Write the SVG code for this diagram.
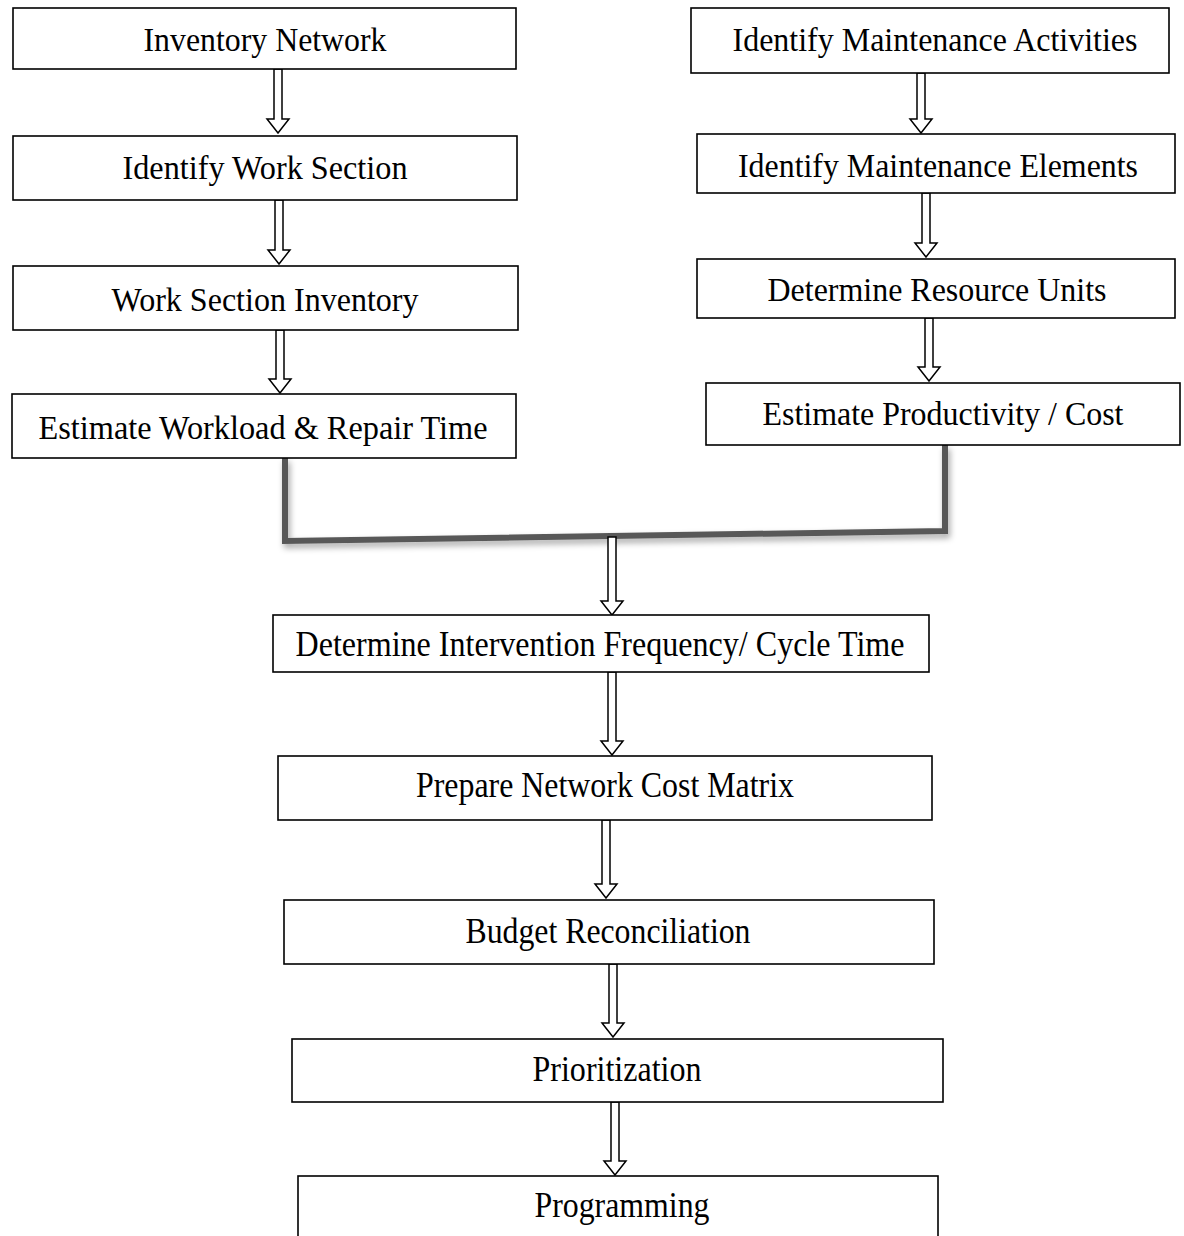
<svg xmlns="http://www.w3.org/2000/svg" width="1184" height="1236" viewBox="0 0 1184 1236">
<defs>
<filter id="sh" x="-5%" y="-20%" width="110%" height="140%">
<feDropShadow dx="2" dy="4" stdDeviation="3" flood-color="#000" flood-opacity="0.35"/>
</filter>
</defs>
<style>
.box{fill:#fff;stroke:#000;stroke-width:1.6}
.t{font-family:"Liberation Serif","Times New Roman",serif;font-size:33px;fill:#000;text-anchor:middle}
.tc{font-family:"Liberation Serif","Times New Roman",serif;font-size:35px;fill:#000;text-anchor:middle}
.arr{fill:#fff;stroke:#000;stroke-width:1.5;stroke-linejoin:miter}
.bar{fill:none;stroke:#595959;stroke-width:6;stroke-linejoin:miter}
</style>
<rect width="1184" height="1236" fill="#fff"/>
<g id="connectors">
<path class="bar" filter="url(#sh)" d="M285 458 V541 L945 531 V445"/>
<path class="arr" d="M274 69 V119 H267 L278 133 L289 119 H282 V69 Z"/>
<path class="arr" d="M275 200 V250 H268 L279 264 L290 250 H283 V200 Z"/>
<path class="arr" d="M276 330 V379 H269 L280 393 L291 379 H284 V330 Z"/>
<path class="arr" d="M917 73 V119 H910 L921 133 L932 119 H925 V73 Z"/>
<path class="arr" d="M922 193 V243 H915 L926 257 L937 243 H930 V193 Z"/>
<path class="arr" d="M925 318 V367 H918 L929 381 L940 367 H933 V318 Z"/>
<path class="arr" d="M608 537 V601 H601 L612 615 L623 601 H616 V537 Z"/>
<path class="arr" d="M608 672 V741 H601 L612 755 L623 741 H616 V672 Z"/>
<path class="arr" d="M602 820 V884 H595 L606 898 L617 884 H610 V820 Z"/>
<path class="arr" d="M609 964 V1023 H602 L613 1037 L624 1023 H617 V964 Z"/>
<path class="arr" d="M611 1102 V1161 H604 L615 1175 L626 1161 H619 V1102 Z"/>
</g>
<g id="n1"><rect class="box" x="13" y="8" width="503" height="61"/><text class="t" x="265" y="51" textLength="243" lengthAdjust="spacingAndGlyphs">Inventory Network</text></g>
<g id="n2"><rect class="box" x="13" y="136" width="504" height="64"/><text class="t" x="265" y="179" textLength="285" lengthAdjust="spacingAndGlyphs">Identify Work Section</text></g>
<g id="n3"><rect class="box" x="13" y="266" width="505" height="64"/><text class="t" x="265" y="311" textLength="307" lengthAdjust="spacingAndGlyphs">Work Section Inventory</text></g>
<g id="n4"><rect class="box" x="12" y="394" width="504" height="64"/><text class="t" x="263" y="439" textLength="449" lengthAdjust="spacingAndGlyphs">Estimate Workload &amp; Repair Time</text></g>
<g id="n5"><rect class="box" x="691" y="8" width="478" height="65"/><text class="t" x="935" y="51" textLength="405" lengthAdjust="spacingAndGlyphs">Identify Maintenance Activities</text></g>
<g id="n6"><rect class="box" x="697" y="134" width="478" height="59"/><text class="t" x="938" y="177" textLength="400" lengthAdjust="spacingAndGlyphs">Identify Maintenance Elements</text></g>
<g id="n7"><rect class="box" x="697" y="259" width="478" height="59"/><text class="t" x="937" y="301" textLength="339" lengthAdjust="spacingAndGlyphs">Determine Resource Units</text></g>
<g id="n8"><rect class="box" x="706" y="383" width="474" height="62"/><text class="t" x="943" y="425" textLength="361" lengthAdjust="spacingAndGlyphs">Estimate Productivity / Cost</text></g>
<g id="n9"><rect class="box" x="273" y="615" width="656" height="57"/><text class="tc" x="600" y="656" textLength="609" lengthAdjust="spacingAndGlyphs">Determine Intervention Frequency/ Cycle Time</text></g>
<g id="n10"><rect class="box" x="278" y="756" width="654" height="64"/><text class="tc" x="605" y="797" textLength="378" lengthAdjust="spacingAndGlyphs">Prepare Network Cost Matrix</text></g>
<g id="n11"><rect class="box" x="284" y="900" width="650" height="64"/><text class="tc" x="608" y="943" textLength="285" lengthAdjust="spacingAndGlyphs">Budget Reconciliation</text></g>
<g id="n12"><rect class="box" x="292" y="1039" width="651" height="63"/><text class="tc" x="617" y="1081" textLength="169" lengthAdjust="spacingAndGlyphs">Prioritization</text></g>
<g id="n13"><rect class="box" x="298" y="1176" width="640" height="70"/><text class="tc" x="622" y="1217" textLength="175" lengthAdjust="spacingAndGlyphs">Programming</text></g>
</svg>
